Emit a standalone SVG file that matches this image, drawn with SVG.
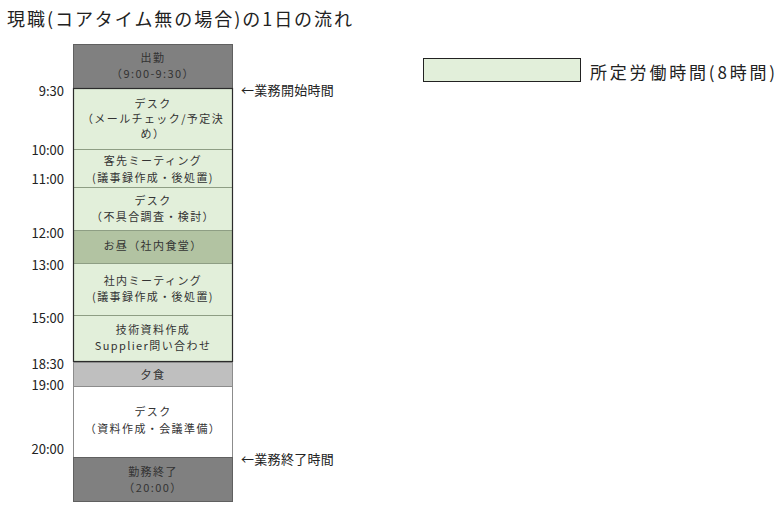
<svg xmlns="http://www.w3.org/2000/svg" width="778" height="515" viewBox="0 0 778 515">
<style>
text{font-family:"Noto Sans CJK JP","Noto Sans",sans-serif;fill:#222}
.t{font-size:13px;text-anchor:end;dominant-baseline:central}
.b{font-size:11px;text-anchor:middle;dominant-baseline:central;fill:#333;letter-spacing:1.4px}
.n{font-size:13px;dominant-baseline:central;letter-spacing:0.3px}
.dark{fill:#808080;stroke:#606060;stroke-width:1}
.green{fill:#e2efda;stroke:#8e9e84;stroke-width:1}
.lunch{fill:#b2c3a2;stroke:#8e9e84;stroke-width:1}
.din{fill:#bfbfbf;stroke:#8c8c8c;stroke-width:1}
.wh{fill:#ffffff;stroke:#8c8c8c;stroke-width:1}
</style>
<rect width="778" height="515" fill="#fff"/>
<text x="7" y="18" textLength="345" lengthAdjust="spacing" style="font-size:18px;dominant-baseline:central">現職(コアタイム無の場合)の1日の流れ</text>

<g id="start"><rect class="dark" x="73.5" y="44.5" width="159" height="44"/>
<text class="b" x="153" y="57">出勤</text><text class="b" x="153" y="73">（9:00-9:30）</text></g>
<g id="desk1"><rect class="green" x="73.5" y="88.5" width="159" height="61"/>
<text class="b" x="153" y="103">デスク</text><text class="b" x="153" y="118">（メールチェック/予定決</text><text class="b" x="153" y="133">め）</text></g>
<g id="client"><rect class="green" x="73.5" y="149.5" width="159" height="38"/>
<text class="b" x="153" y="160">客先ミーティング</text><text class="b" x="153" y="177">(議事録作成・後処置)</text></g>
<g id="desk2"><rect class="green" x="73.5" y="187.5" width="159" height="43"/>
<text class="b" x="153" y="200">デスク</text><text class="b" x="153" y="216">（不具合調査・検討）</text></g>
<g id="lunch"><rect class="lunch" x="73.5" y="230.5" width="159" height="33"/>
<text class="b" x="153" y="245">お昼（社内食堂）</text></g>
<g id="internal"><rect class="green" x="73.5" y="263.5" width="159" height="52"/>
<text class="b" x="153" y="280">社内ミーティング</text><text class="b" x="153" y="296">(議事録作成・後処置)</text></g>
<g id="docs"><rect class="green" x="73.5" y="315.5" width="159" height="46"/>
<text class="b" x="153" y="329">技術資料作成</text><text class="b" x="153" y="345">Supplier問い合わせ</text></g>
<rect x="73.5" y="88.5" width="159" height="273" fill="none" stroke="#2b2b2b" stroke-width="1.2"/>
<g id="dinner"><rect class="din" x="73.5" y="362.5" width="159" height="24"/>
<text class="b" x="153" y="374">夕食</text></g>
<g id="desk3"><rect class="wh" x="73.5" y="386.5" width="159" height="71"/>
<text class="b" x="153" y="411">デスク</text><text class="b" x="153" y="428">（資料作成・会議準備）</text></g>
<g id="end"><rect class="dark" x="73.5" y="457.5" width="159" height="44"/>
<text class="b" x="153" y="471">勤務終了</text><text class="b" x="153" y="487">（20:00）</text></g>

<g id="times">
<text class="t" x="64" y="90">9:30</text>
<text class="t" x="64" y="149">10:00</text>
<text class="t" x="64" y="178">11:00</text>
<text class="t" x="64" y="232">12:00</text>
<text class="t" x="64" y="264">13:00</text>
<text class="t" x="64" y="317">15:00</text>
<text class="t" x="64" y="363">18:30</text>
<text class="t" x="64" y="384">19:00</text>
<text class="t" x="64" y="448">20:00</text>
</g>
<g id="note-start"><text class="n" x="241" y="89">←業務開始時間</text></g>
<g id="note-end"><text class="n" x="241" y="458">←業務終了時間</text></g>
<g id="legend"><rect x="423.5" y="58.5" width="157" height="23" fill="#e2efda" stroke="#222" stroke-width="1"/>
<text x="590" y="71" textLength="185" lengthAdjust="spacing" style="font-size:17px;dominant-baseline:central">所定労働時間(8時間)</text></g>
<g id="connectors"/>
</svg>
